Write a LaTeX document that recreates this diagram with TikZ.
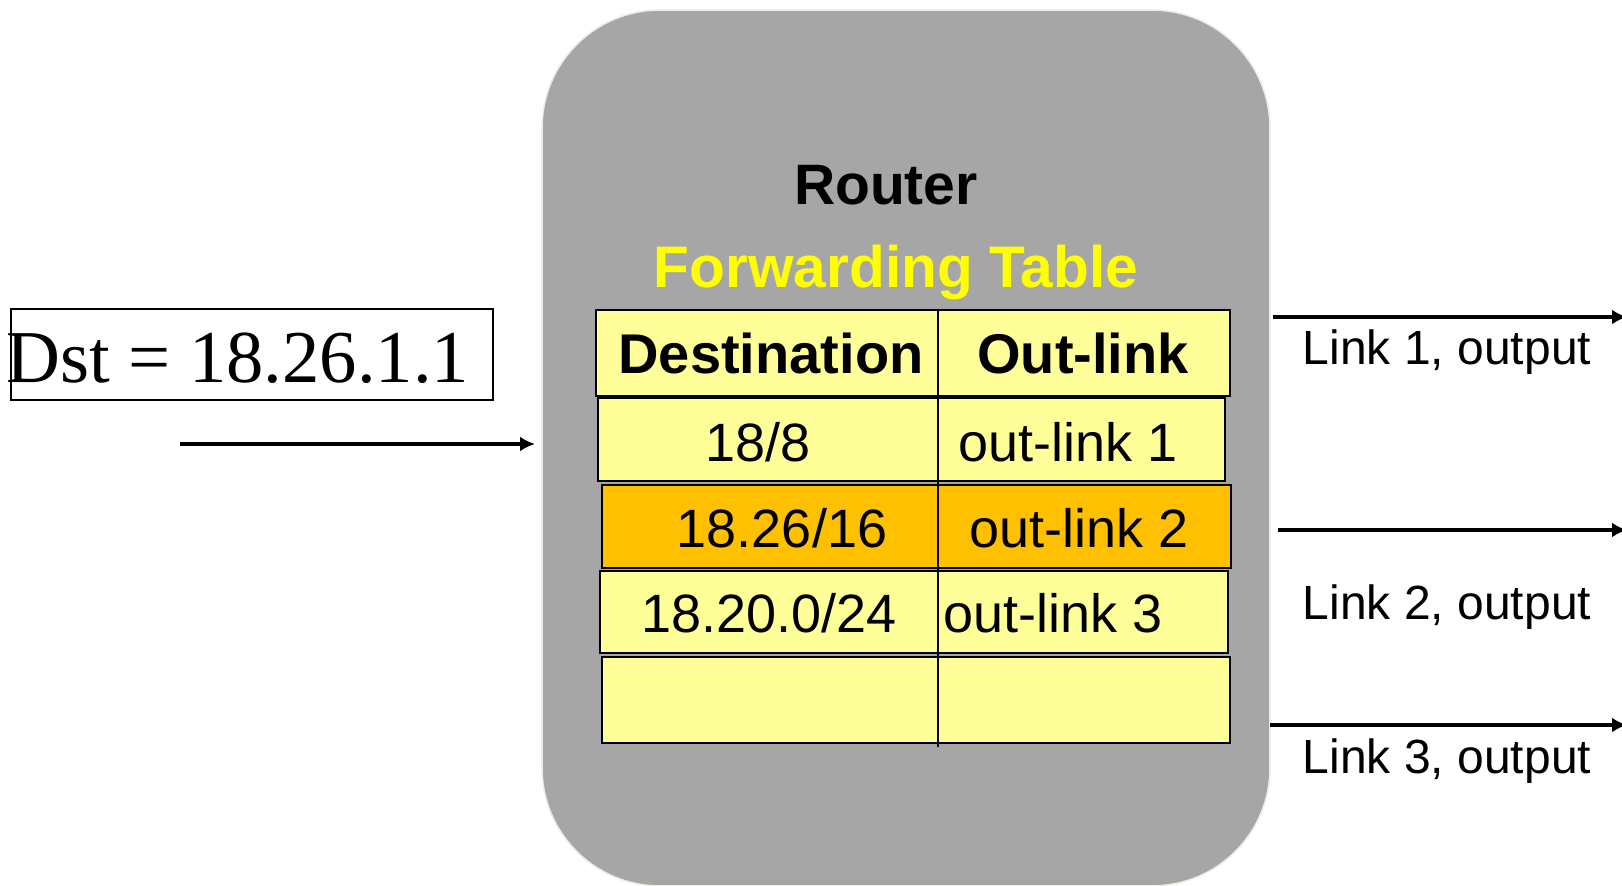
\documentclass[tikz,border=0pt]{standalone}
\usepackage{fontspec}
\setmainfont{Liberation Serif}
\setsansfont{Liberation Sans}
\usepackage{xcolor}
\usetikzlibrary{arrows.meta,positioning}
\definecolor{routergray}{HTML}{A6A6A6}
\definecolor{routeredge}{HTML}{EEEEE2}
\definecolor{celly}{HTML}{FFFF99}
\definecolor{cello}{HTML}{FFC000}
\definecolor{titley}{HTML}{FFFF00}

\begin{document}
\begin{tikzpicture}[
    x=0.5pt, y=-0.5pt,
    routerbox/.style={draw=routeredge, line width=0.8pt, fill=routergray, rounded corners=59pt, minimum width=364pt, minimum height=438pt},
    cell/.style={draw=black, line width=1.4pt, fill=celly},
    hitcell/.style={draw=black, line width=1.4pt, fill=cello},
    divider/.style={draw=black, line width=1pt},
    head/.style={font=\sffamily\bfseries\fontsize{28}{33}\selectfont, inner sep=0pt, anchor=base},
    entry/.style={font=\sffamily\fontsize{27}{32}\selectfont, inner sep=0pt, anchor=base},
    linklabel/.style={font=\sffamily\fontsize{24}{29}\selectfont, inner sep=0pt, anchor=base},
    link/.style={line width=1.6pt, -{Latex[length=7.5pt,width=7.5pt]}}
]
    \useasboundingbox (0,0) rectangle (1622,886);

    % router
    \node[routerbox] (router) at (906,448) {};
    \node[font=\sffamily\bfseries\fontsize{28.5}{34}\selectfont, inner sep=0pt, anchor=base] (rtitle) at (886,205) {Router};
    \node[font=\sffamily\bfseries\fontsize{29.3}{35}\selectfont, text=titley, inner sep=0pt, anchor=base] (ftitle) at (896,288) {Forwarding Table};

    % table rows
    \draw[cell] (596,310) rectangle (1230,396);
    \draw[cell] (598,398) rectangle (1225,481);
    \draw[hitcell] (602,485) rectangle (1231,568);
    \draw[cell] (600,571) rectangle (1228,653);
    \draw[cell] (602,657) rectangle (1230,743);
    \draw[divider] (938,310) -- (938,747);

    \node[head] (hdst) at (771,374) {Destination};
    \node[head] (hout) at (1083,374) {Out-link};
    \node[entry] (dst1) at (758,462) {18/8};
    \node[entry] (out1) at (1068,462) {out-link 1};
    \node[entry] (dst2) at (782,548) {18.26/16};
    \node[entry] (out2) at (1079,548) {out-link 2};
    \node[entry] (dst3) at (769,633) {18.20.0/24};
    \node[entry] (out3) at (1053,633) {out-link 3};

    % incoming packet
    \draw[line width=1pt] (11,309) rectangle (493,400);
    \node[font=\fontsize{37.3}{44}\selectfont, inner sep=0pt, anchor=base west] (dst) at (6,383) {Dst = 18.26.1.1};
    \coordinate (inA) at (180,444);
    \coordinate (inB) at (535,444);
    \draw[link] (inA) -- (inB);

    % outgoing links
    \coordinate (l1a) at (1273,317);
    \coordinate (l1b) at (1627,317);
    \coordinate (l2a) at (1278,530);
    \coordinate (l2b) at (1627,530);
    \coordinate (l3a) at (1270,725);
    \coordinate (l3b) at (1627,725);
    \draw[link] (l1a) -- (l1b);
    \draw[link] (l2a) -- (l2b);
    \draw[link] (l3a) -- (l3b);

    \node[linklabel] (lab1) at (1447,365) {Link 1, output};
    \node[linklabel] (lab2) at (1447,620) {Link 2, output};
    \node[linklabel] (lab3) at (1447,773) {Link 3, output};
\end{tikzpicture}
\end{document}
